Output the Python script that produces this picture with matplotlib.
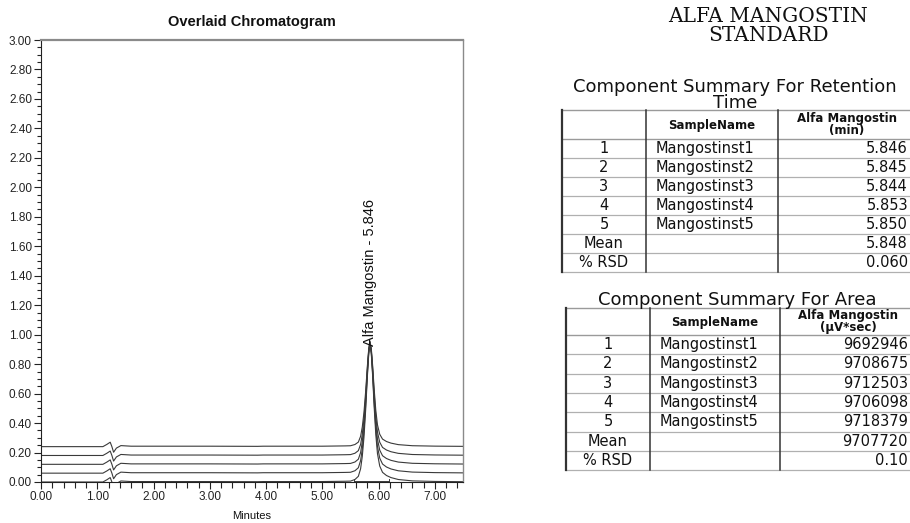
import numpy as np
import matplotlib
matplotlib.use("Agg")
import matplotlib.pyplot as plt
from matplotlib.ticker import MultipleLocator, FormatStrFormatter

# ---------------- data ----------------
# shared time axis of the chromatogram profile (minutes)
trace_time = [0.00, 1.10, 1.17, 1.23, 1.26, 1.29, 1.34, 1.42, 1.60, 3.00, 3.85, 3.95,
              5.00, 5.40, 5.50, 5.58, 5.64, 5.68, 5.71, 5.74, 5.77, 5.80, 5.825, 5.846,
              5.87, 5.895, 5.92, 5.95, 5.98, 6.02, 6.07, 6.14, 6.22, 6.35, 6.60, 7.00, 7.50]
# baseline disturbance (solvent front)
baseline_shape = [0.000, 0.000, 0.015, 0.030, 0.000, -0.038, -0.010, 0.007, 0.003, 0.003, 0.002, 0.003,
                  0.003, 0.005, 0.006, 0.006, 0.006, 0.006, 0.006, 0.006, 0.006, 0.006, 0.006, 0.006,
                  0.006, 0.006, 0.006, 0.006, 0.006, 0.006, 0.005, 0.005, 0.004, 0.003, 0.002, 0.002, 0.002]
# peak profile, fraction of the apex height above baseline
peak_shape = [0.0, 0.0, 0.0, 0.0, 0.0, 0.0, 0.0, 0.0, 0.0, 0.0, 0.0, 0.0,
              0.0, 0.0, 0.0, 0.012, 0.035, 0.09, 0.18, 0.32, 0.52, 0.76, 0.93, 1.00,
              0.93, 0.76, 0.55, 0.34, 0.20, 0.11, 0.065, 0.042, 0.028, 0.015, 0.006, 0.002, 0.0]
trace_offsets = [0.00, 0.06, 0.12, 0.18, 0.24]
trace_apex = [0.93, 0.935, 0.94, 0.945, 0.95]
integration_marks = [5.57, 6.19]

peak_name = "Alfa Mangostin"
row_labels = ["1", "2", "3", "4", "5", "Mean", "% RSD"]
sample_names = ["Mangostinst1", "Mangostinst2", "Mangostinst3", "Mangostinst4", "Mangostinst5", "", ""]
rt_values = ["5.846", "5.845", "5.844", "5.853", "5.850", "5.848", "0.060"]
area_values = ["9692946", "9708675", "9712503", "9706098", "9718379", "9707720", "0.10"]

# ---------------- figure ----------------
W, H = 910, 523
fig = plt.figure(figsize=(W / 100, H / 100), dpi=100)
fig.patch.set_facecolor("white")

ax = fig.add_axes([41 / W, 1 - 482 / H, 422 / W, 442 / H])
t = np.array(trace_time)
b = np.array(baseline_shape)
p = np.array(peak_shape)
for off, ap in zip(trace_offsets, trace_apex):
    y = off + b + (ap - off) * p
    ax.plot(t, y, color="#3a3a3a", lw=0.8, solid_joinstyle="round")

# integration baseline marks on the first trace
ax.plot(integration_marks, [0.004, 0.004], color="#3a3a3a", lw=0.7)
for m in integration_marks:
    ax.plot([m, m], [-0.01, 0.02], color="#3a3a3a", lw=0.7)

ax.text(float(rt_values[0]), trace_apex[0] - 0.01, f"{peak_name} - {rt_values[0]}",
        rotation=90, ha="center", va="bottom", fontsize=10.5,
        family="Liberation Sans", color="#111111")

ax.set_xlim(0, 7.5)
ax.set_ylim(0, 3.0)
ax.xaxis.set_major_locator(MultipleLocator(1.0))
ax.xaxis.set_minor_locator(MultipleLocator(0.2))
ax.yaxis.set_major_locator(MultipleLocator(0.2))
ax.yaxis.set_minor_locator(MultipleLocator(0.05))
ax.xaxis.set_major_formatter(FormatStrFormatter("%.2f"))
ax.yaxis.set_major_formatter(FormatStrFormatter("%.2f"))
ax.tick_params(axis="both", which="major", direction="out", length=5, width=0.8,
               labelsize=8.5, pad=1.5, colors="#222222")
ax.tick_params(axis="both", which="minor", direction="out", length=3, width=0.8, colors="#222222")
ax.tick_params(axis="x", which="minor", length=4)
for lbl in ax.get_xticklabels() + ax.get_yticklabels():
    lbl.set_family("Liberation Sans")
ax.spines["top"].set_color("#8a8a8a")
ax.spines["top"].set_linewidth(1.6)
ax.spines["right"].set_color("#8a8a8a")
ax.spines["right"].set_linewidth(1.0)
ax.spines["left"].set_color("#222222")
ax.spines["bottom"].set_color("#222222")
ax.set_xlabel("Minutes", fontsize=8, family="Liberation Sans", labelpad=6, color="#111111")
ax.set_title("Overlaid Chromatogram", fontsize=10.5, fontweight="bold",
             family="Liberation Sans", pad=10, color="#111111")

# ---------------- right panel (pixel coordinates) ----------------
ov = fig.add_axes([0, 0, 1, 1])
ov.set_xlim(0, W)
ov.set_ylim(H, 0)
ov.axis("off")

ov.text(768, 26, "ALFA MANGOSTIN\nSTANDARD", ha="center", va="center", fontsize=14.5,
        family="DejaVu Serif", color="#111111", linespacing=0.95)


def draw_table(title_lines, title_y, x0, x1, x2, x3, y_top, y_head, row_h, header3, values):
    ov.text((x0 + x3) / 2 - 2, title_y, title_lines, ha="center", va="center",
            fontsize=13, family="DejaVu Sans", color="#111111", linespacing=0.85)
    n = len(values)
    y_bot = y_head + n * row_h
    # horizontal lines
    ov.plot([x0, x3], [y_top, y_top], color="#9a9a9a", lw=1.0)
    ov.plot([x0, x3], [y_head, y_head], color="#9a9a9a", lw=1.0)
    for i in range(1, n + 1):
        ov.plot([x0, x3], [y_head + i * row_h] * 2, color="#b0b0b0", lw=0.9)
    # vertical lines
    ov.plot([x0, x0], [y_top, y_bot], color="#333333", lw=1.6)
    for xx in (x1, x2):
        ov.plot([xx, xx], [y_top, y_bot], color="#333333", lw=1.1)
    # header
    ov.text((x1 + x2) / 2, (y_top + y_head) / 2 + 1, "SampleName", ha="center", va="center",
            fontsize=8.5, fontweight="bold", family="DejaVu Sans", color="#111111")
    ov.text((x2 + x3) / 2 + 2, (y_top + y_head) / 2, header3, ha="center", va="center",
            fontsize=8.5, fontweight="bold", family="DejaVu Sans", color="#111111",
            linespacing=0.9)
    for i in range(n):
        yc = y_head + (i + 0.5) * row_h
        ov.text((x0 + x1) / 2, yc, row_labels[i], ha="center", va="center",
                fontsize=10.5, family="DejaVu Sans", color="#111111")
        if sample_names[i]:
            ov.text(x1 + 10, yc, sample_names[i], ha="left", va="center",
                    fontsize=10.5, family="DejaVu Sans", color="#111111")
        ov.text(x3 - 4, yc, values[i], ha="right", va="center",
                fontsize=10.5, family="DejaVu Sans", color="#111111")


draw_table("Component Summary For Retention\nTime", 95, 562, 646, 778, 912, 110, 139, 19.0,
           f"{peak_name}\n(min)", rt_values)
draw_table("Component Summary For Area", 300, 566, 650, 780, 912, 308, 335, 19.3,
           f"{peak_name}\n(µV*sec)", area_values)

fig.savefig("out.png", dpi=100, facecolor="white")
